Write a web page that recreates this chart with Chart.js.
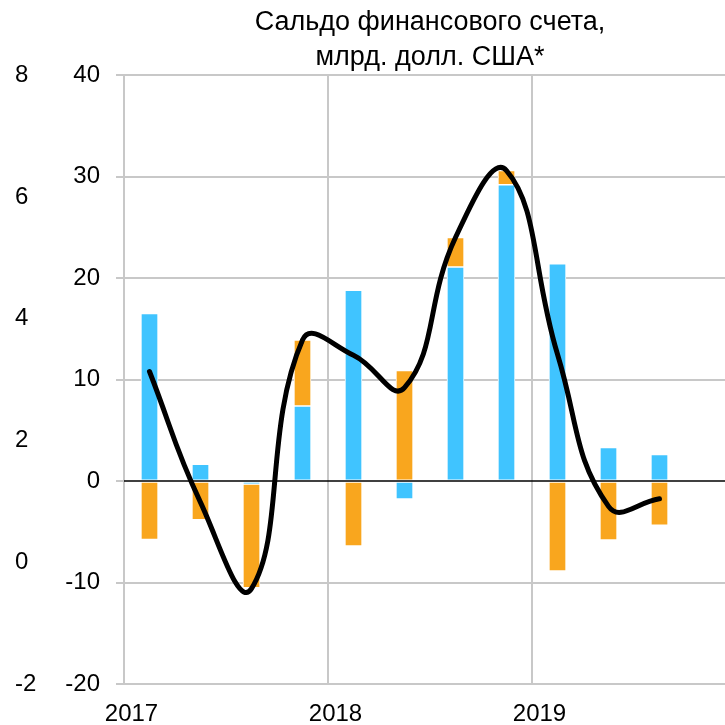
<!DOCTYPE html>
<html>
<head>
<meta charset="utf-8">
<script src="https://cdn.jsdelivr.net/npm/chart.js@4.4.1/dist/chart.umd.min.js"></script>
<style>
  html, body { margin: 0; padding: 0; background: #fff; overflow: hidden; }
  #wrap { width: 725px; height: 725px; overflow: hidden; position: relative; }
  canvas { display: block; }
</style>
</head>
<body>
<div id="wrap"><canvas id="c" width="740" height="735"></canvas></div>
<script>
// ---- data ----
const quarters = ['2017 Q1','2017 Q2','2017 Q3','2017 Q4','2018 Q1','2018 Q2','2018 Q3','2018 Q4','2019 Q1','2019 Q2','2019 Q3','2019 Q4'];
const yearLabels = ['2017', '2018', '2019'];
const blueSeries = [16.5, 1.65, -0.3, 7.4, 18.8, -1.75, 21.1, 29.2, 21.4, 3.3, 2.6, null];
const orangeSeries = [-5.75, -3.8, -10.2, 6.5, -6.4, 10.9, 2.9, 1.4, -8.85, -5.8, -4.35, null];
const totalSeries = [10.8, -2.1, -10.6, 13.9, 12.4, 9.2, 24.0, 30.6, 12.5, -2.5, -1.75, null];
const titleLines = ['Сальдо финансового счета,', 'млрд. долл. США*'];

const FONT = '"Liberation Sans", Arial, sans-serif';
const GRID = '#c8c8c8';
const BLUE = '#40c4ff';
const ORANGE = '#f9a61e';

const zeroLine = {
  id: 'zeroLine',
  afterDatasetsDraw(chart) {
    const y = chart.scales.y.getPixelForValue(0);
    const a = chart.chartArea;
    const ctx = chart.ctx;
    ctx.save();
    ctx.strokeStyle = '#000';
    ctx.lineWidth = 1.5;
    ctx.beginPath();
    ctx.moveTo(a.left, y);
    ctx.lineTo(a.right, y);
    ctx.stroke();
    ctx.restore();
  }
};

new Chart(document.getElementById('c'), {
  data: {
    labels: quarters,
    datasets: [
      {
        type: 'line', label: 'total', data: totalSeries, yAxisID: 'y', stack: 'line',
        borderColor: '#000', borderWidth: 5, pointRadius: 0, tension: 0.45,
        borderCapStyle: 'round', borderJoinStyle: 'round', fill: false, order: 0
      },
      {
        type: 'bar', label: 'blue', data: blueSeries, yAxisID: 'y', stack: 's',
        backgroundColor: BLUE, borderColor: '#fff', borderWidth: 1, borderSkipped: false,
        barThickness: 17, order: 1
      },
      {
        type: 'bar', label: 'orange', data: orangeSeries, yAxisID: 'y', stack: 's',
        backgroundColor: ORANGE, borderColor: '#fff', borderWidth: 1, borderSkipped: false,
        barThickness: 17, order: 1
      }
    ]
  },
  options: {
    responsive: false,
    animation: false,
    devicePixelRatio: 1,
    layout: { padding: { left: 15, right: 4, top: 0, bottom: 0 } },
    plugins: {
      legend: { display: false },
      tooltip: { enabled: false },
      title: {
        display: true, text: titleLines, fullSize: false, color: '#000',
        font: { family: FONT, size: 27, weight: 'normal', lineHeight: 1.3 },
        padding: { top: 5, bottom: 0 }
      }
    },
    scales: {
      x: {
        stacked: true,
        offset: true,
        grid: {
          offset: true, drawTicks: false, lineWidth: 2,
          color: (c) => (c.index % 4 === 0 ? GRID : 'rgba(0,0,0,0)')
        },
        border: { display: false },
        ticks: {
          autoSkip: false, maxRotation: 0, minRotation: 0, padding: 16, labelOffset: -18,
          color: '#000', font: { family: FONT, size: 24 },
          callback: (v, i) => (i % 4 === 0 ? yearLabels[i / 4] : '')
        },
        afterFit: (s) => { s.height = 51; }
      },
      y: {
        position: 'left', weight: 0, stacked: true,
        min: -20, max: 40,
        grid: {
          lineWidth: 2, tickLength: 8, tickColor: GRID,
          color: (c) => (c.tick && c.tick.value === 0 ? 'rgba(0,0,0,0)' : GRID)
        },
        border: { display: true, color: GRID, width: 2 },
        ticks: { stepSize: 10, padding: 16, color: '#000', font: { family: FONT, size: 24 } },
        afterFit: (s) => { s.width = 64; }
      },
      y2: {
        position: 'left', weight: 1, display: true,
        min: -2, max: 8,
        grid: { display: false, drawTicks: false },
        border: { display: false },
        ticks: { stepSize: 2, padding: 0, crossAlign: 'far', color: '#000', font: { family: FONT, size: 24 } },
        afterFit: (s) => { s.width = 45; }
      }
    }
  },
  plugins: [zeroLine]
});
</script>
</body>
</html>
